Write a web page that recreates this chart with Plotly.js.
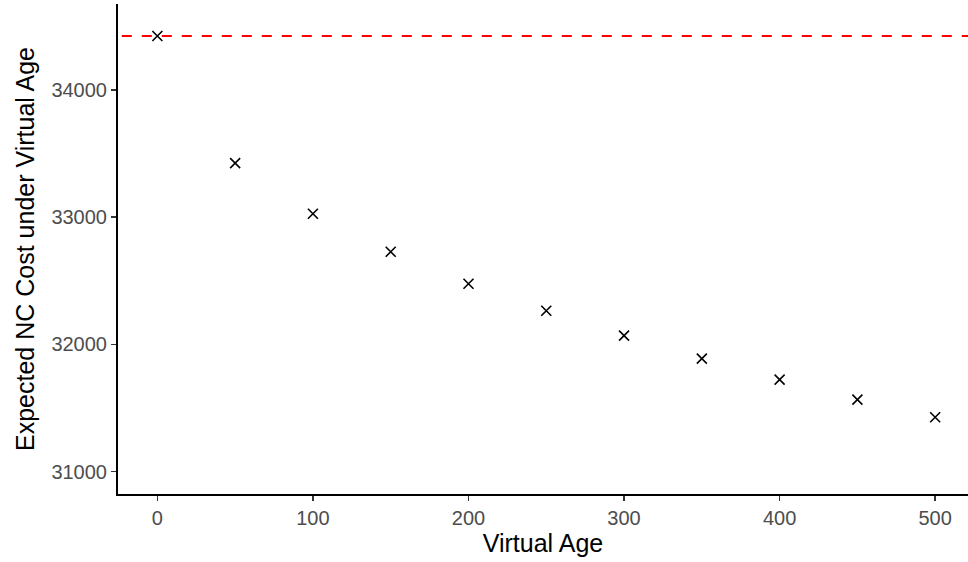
<!DOCTYPE html>
<html>
<head>
<meta charset="utf-8">
<script src="https://cdn.plot.ly/plotly-3.0.1.min.js"></script>
<style>html,body{margin:0;padding:0;background:#fff;}#chart{width:968px;height:562px;}</style>
</head>
<body>
<div id="chart"></div>
<script>
const virtualAge = [0, 50, 100, 150, 200, 250, 300, 350, 400, 450, 500];
const expectedCost = [34424, 33425, 33027, 32728, 32477, 32265, 32069, 31889, 31724, 31567, 31428];
const referenceCost = 34424;
const xTicks = [0, 100, 200, 300, 400, 500];
const yTicks = [31000, 32000, 33000, 34000];

const font = "Liberation Sans, Arial, Helvetica, sans-serif";

const traces = [
  {
    x: [-100, 700],
    y: [referenceCost, referenceCost],
    mode: 'lines',
    line: {color: '#ff0000', width: 2, dash: '10px,10px'},
    hoverinfo: 'skip',
    showlegend: false
  },
  {
    x: virtualAge,
    y: expectedCost,
    mode: 'markers',
    marker: {symbol: 'x-thin', size: 10, color: '#000', line: {color: '#000', width: 1.6}},
    showlegend: false
  }
];

const layout = {
  width: 968, height: 562,
  margin: {l: 118, r: 0, t: 4, b: 68},
  paper_bgcolor: '#fff', plot_bgcolor: '#fff',
  font: {family: font},
  showlegend: false,
  xaxis: {
    range: [-25.3, 521.1],
    tickvals: xTicks, ticktext: xTicks.map(String),
    showgrid: false, zeroline: false,
    showline: true, linecolor: '#000', linewidth: 2,
    ticks: 'outside', ticklen: 5, tickwidth: 1.5, tickcolor: '#333',
    tickfont: {size: 20, color: '#4d4d4d', family: font},
    title: {text: 'Virtual Age', font: {size: 25, color: '#000', family: font}, standoff: 6}
  },
  yaxis: {
    range: [30825, 34675],
    tickvals: yTicks, ticktext: yTicks.map(String),
    showgrid: false, zeroline: false,
    showline: true, linecolor: '#000', linewidth: 2,
    ticks: 'outside', ticklen: 5, tickwidth: 1.5, tickcolor: '#333',
    tickfont: {size: 20, color: '#4d4d4d', family: font},
    title: {text: 'Expected NC Cost under Virtual Age', font: {size: 25, color: '#000', family: font}, standoff: 10}
  }
};

Plotly.newPlot('chart', traces, layout, {displayModeBar: false, staticPlot: true});
</script>
</body>
</html>
